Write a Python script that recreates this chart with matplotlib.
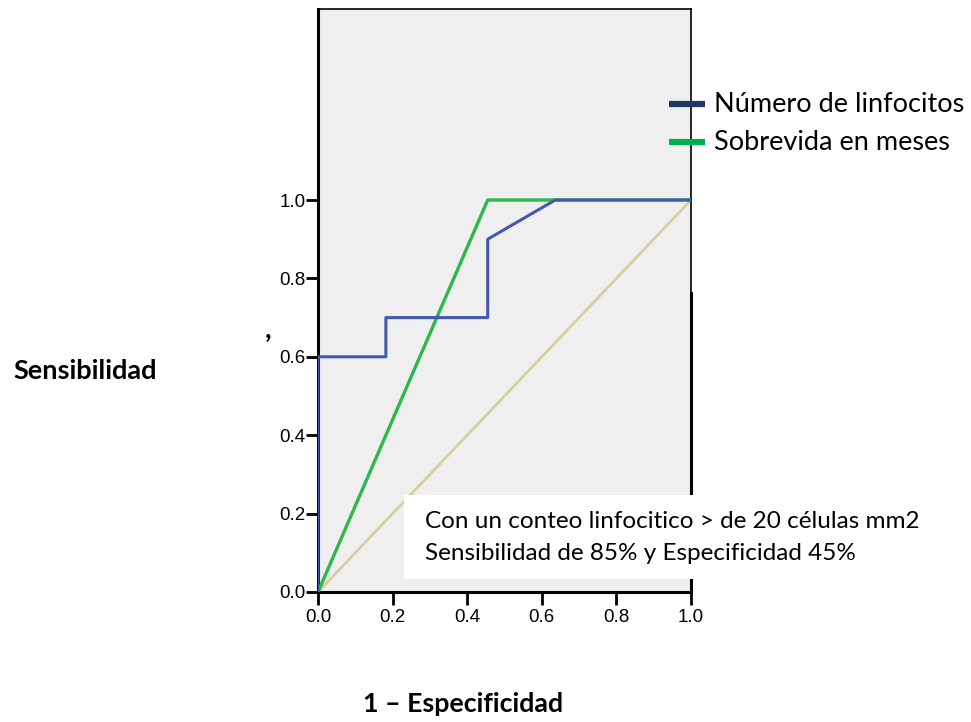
import matplotlib
matplotlib.use("Agg")
import matplotlib.pyplot as plt
from matplotlib.lines import Line2D
from matplotlib.patches import Rectangle

# ROC curves
fpr_linfocitos = [0.0, 0.0, 0.182, 0.182, 0.455, 0.455, 0.636, 1.0]
tpr_linfocitos = [0.0, 0.6, 0.6, 0.7, 0.7, 0.9, 1.0, 1.0]
fpr_sobrevida = [0.0, 0.455, 1.0]
tpr_sobrevida = [0.0, 1.0, 1.0]
ref_line = [0.0, 1.0]
ticks = [0.0, 0.2, 0.4, 0.6, 0.8, 1.0]
tick_labels = ["0.0", "0.2", "0.4", "0.6", "0.8", "1.0"]
series_names = ["Número de linfocitos", "Sobrevida en meses"]
note_lines = ["Con un conteo linfocitico > de 20 células mm2",
              "Sensibilidad de 85% y Especificidad 45%"]

W, H = 971, 722
fig = plt.figure(figsize=(W / 100, H / 100), dpi=100)
fig.patch.set_facecolor("white")


def fx(px):
    return px / W


def fy(py):
    return 1 - py / H


ax = fig.add_axes([fx(318), fy(592), fx(691) - fx(318), (592 - 9) / H])
ax.set_facecolor("#efefef")
ax.set_xlim(0, 1)
ax.set_ylim(0, (592 - 9) / 392)

ax.plot(ref_line, ref_line, color="#d6d09e", lw=2, zorder=2)
ax.plot(fpr_sobrevida, tpr_sobrevida, color="#2cb84a", lw=2.4, zorder=3)
ax.plot(fpr_linfocitos, tpr_linfocitos, color="#4258b3", lw=2.2, zorder=4)

ax.set_xticks(ticks)
ax.set_xticklabels(tick_labels)
ax.set_yticks(ticks)
ax.set_yticklabels(tick_labels)
ax.tick_params(direction="out", length=9, width=2, labelsize=13.5)
ax.tick_params(axis="x", pad=3.5)
ax.tick_params(axis="y", pad=0)
for lab in ax.get_xticklabels() + ax.get_yticklabels():
    lab.set_family("Liberation Sans")
for side in ("left", "bottom"):
    ax.spines[side].set_linewidth(2.2)
for side in ("top", "right"):
    ax.spines[side].set_linewidth(1.2)
ax.axvline(1.0, ymin=0, ymax=(592 - 293) / 583, color="black", lw=2.2,
           clip_on=False, zorder=5)

# white annotation box that covers part of the plot
fig.add_artist(Rectangle((fx(404), fy(579)), fx(935) - fx(404), (579 - 495) / H,
                         facecolor="white", edgecolor="none", zorder=10))
fig.text(fx(425), fy(522), note_lines[0], fontsize=17.5, family="Lato",
         va="center", ha="left", zorder=11)
fig.text(fx(425), fy(554), note_lines[1], fontsize=17.5, family="Lato",
         va="center", ha="left", zorder=11)

# legend drawn at figure level
legend_colors = ["#1f3864", "#00b050"]
for i, (name, col) in enumerate(zip(series_names, legend_colors)):
    y = fy(104 + 38 * i)
    fig.add_artist(Line2D([fx(669), fx(705)], [y, y], color=col, lw=4.5,
                          solid_capstyle="butt", zorder=12))
    fig.text(fx(714), y, name, fontsize=19.5, family="Lato", va="center",
             ha="left", zorder=12)

fig.text(fx(85), fy(371), "Sensibilidad", fontsize=19.5, family="Lato",
         weight="bold", ha="center", va="center")
fig.text(fx(463), fy(704), "1 – Especificidad", fontsize=19.3, family="Lato",
         weight="bold", ha="center", va="center")
fig.text(fx(268), fy(330), ",", fontsize=20, family="Lato", weight="bold",
         ha="center", va="center")

fig.savefig("out.png", dpi=100)
